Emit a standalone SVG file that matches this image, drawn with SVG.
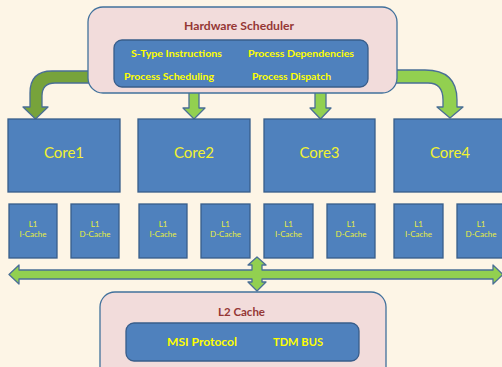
<svg xmlns="http://www.w3.org/2000/svg" width="502" height="367" viewBox="0 0 502 367">
  <style>
    .outer { fill: #f2dcdb; stroke: #41719c; stroke-width: 1.3; }
    .inner { fill: #4f81bd; stroke: #385d8a; stroke-width: 1.3; }
    .core { fill: #4f81bd; stroke: #385d8a; stroke-width: 1.3; }
    .arrow { fill: #92d050; stroke: #4a6f95; stroke-width: 1.3; stroke-linejoin: round; }
    .arrow-dark { fill: #77a33b; stroke: #4a6f95; stroke-width: 1.3; stroke-linejoin: round; }
    .title { font-family: Lato, "Liberation Sans", sans-serif; font-weight: bold; font-size: 12px; fill: #953735; }
    .item { font-family: Lato, "Liberation Sans", sans-serif; font-weight: bold; font-size: 10px; fill: #ffff00; }
    .item-lg { font-family: Lato, "Liberation Sans", sans-serif; font-weight: bold; font-size: 12px; fill: #ffff00; }
    .core-label { font-family: Lato, "Liberation Sans", sans-serif; font-size: 15px; fill: #f2f230; text-anchor: middle; }
    .l1 { font-family: Lato, "Liberation Sans", sans-serif; font-size: 8px; fill: #e8ee40; text-anchor: middle; }
  </style>

  <rect width="502" height="367" fill="#fdf5e6"/>

  <!-- dispatch arrows and the shared bus -->
  <g id="connectors">
    <path class="arrow-dark" d="M95,71 L52,71 Q30,71 30,93 L30,107 L23,107 L35.5,119 L48,107 L42,107 L42,96 Q42,83 55,83 L95,83 Z"/>
    <path class="arrow" d="M189,86 L199,86 L199,108 L205,108 L194,119 L183,108 L189,108 Z"/>
    <path class="arrow" d="M315,86 L326,86 L326,108 L331,108 L320.5,119 L310,108 L315,108 Z"/>
    <path class="arrow" d="M390,70 L425,70 Q457,70 457,100 L457,107 L463,107 L450,118 L437,107 L443,107 L443,100 Q443,83 428,83 L390,83 Z"/>
    <path class="arrow" d="M9,274.5 L19,265 L19,270 L252,270 L252,265 L248,265 L257,257 L266,265 L262,265 L262,270 L493,270 L493,265 L503,274.5 L493,284 L493,279 L262,279 L262,282 L266,282 L257,291 L248,282 L252,282 L252,279 L19,279 L19,284 Z"/>
  </g>

  <g id="hardware-scheduler">
    <rect class="outer" x="88" y="7" width="309" height="86" rx="15"/>
    <text class="title" x="184" y="30" textLength="110" lengthAdjust="spacingAndGlyphs">Hardware Scheduler</text>
    <rect class="inner" x="114" y="40" width="254" height="47" rx="8"/>
    <text class="item" x="131" y="57" textLength="91" lengthAdjust="spacingAndGlyphs">S-Type Instructions</text>
    <text class="item" x="248" y="57" textLength="106" lengthAdjust="spacingAndGlyphs">Process Dependencies</text>
    <text class="item" x="124" y="80" textLength="90" lengthAdjust="spacingAndGlyphs">Process Scheduling</text>
    <text class="item" x="252" y="80" textLength="79" lengthAdjust="spacingAndGlyphs">Process Dispatch</text>
  </g>

  <g id="core1">
    <rect class="core" x="8" y="119" width="112" height="73"/>
    <text class="core-label" x="64" y="158">Core1</text>
  </g>
  <g id="core2">
    <rect class="core" x="138" y="119" width="112" height="73"/>
    <text class="core-label" x="194" y="158">Core2</text>
  </g>
  <g id="core3">
    <rect class="core" x="264" y="119" width="111" height="73"/>
    <text class="core-label" x="319.5" y="158">Core3</text>
  </g>
  <g id="core4">
    <rect class="core" x="394" y="119" width="112" height="73"/>
    <text class="core-label" x="450" y="158">Core4</text>
  </g>

  <g id="l1-icache-1">
    <rect class="core" x="9" y="204" width="48" height="54"/>
    <text class="l1" x="33" y="227">L1</text>
    <text class="l1" x="33" y="237">I-Cache</text>
  </g>
  <g id="l1-dcache-1">
    <rect class="core" x="71" y="204" width="48" height="54"/>
    <text class="l1" x="95" y="227">L1</text>
    <text class="l1" x="95" y="237">D-Cache</text>
  </g>
  <g id="l1-icache-2">
    <rect class="core" x="139" y="204" width="48" height="54"/>
    <text class="l1" x="163" y="227">L1</text>
    <text class="l1" x="163" y="237">I-Cache</text>
  </g>
  <g id="l1-dcache-2">
    <rect class="core" x="201" y="204" width="49" height="54"/>
    <text class="l1" x="225.5" y="227">L1</text>
    <text class="l1" x="225.5" y="237">D-Cache</text>
  </g>
  <g id="l1-icache-3">
    <rect class="core" x="264" y="204" width="49" height="54"/>
    <text class="l1" x="288.5" y="227">L1</text>
    <text class="l1" x="288.5" y="237">I-Cache</text>
  </g>
  <g id="l1-dcache-3">
    <rect class="core" x="327" y="204" width="48" height="54"/>
    <text class="l1" x="351" y="227">L1</text>
    <text class="l1" x="351" y="237">D-Cache</text>
  </g>
  <g id="l1-icache-4">
    <rect class="core" x="394" y="204" width="49" height="54"/>
    <text class="l1" x="418.5" y="227">L1</text>
    <text class="l1" x="418.5" y="237">I-Cache</text>
  </g>
  <g id="l1-dcache-4">
    <rect class="core" x="457" y="204" width="48" height="54"/>
    <text class="l1" x="481" y="227">L1</text>
    <text class="l1" x="481" y="237">D-Cache</text>
  </g>

  <g id="l2-cache">
    <rect class="outer" x="100" y="292" width="286" height="90" rx="15"/>
    <text class="title" x="218" y="316" textLength="47" lengthAdjust="spacingAndGlyphs">L2 Cache</text>
    <rect class="inner" x="126" y="323" width="233" height="38" rx="8"/>
    <text class="item-lg" x="167" y="346" textLength="70" lengthAdjust="spacingAndGlyphs">MSI Protocol</text>
    <text class="item-lg" x="273" y="346" textLength="50" lengthAdjust="spacingAndGlyphs">TDM BUS</text>
  </g>
</svg>
